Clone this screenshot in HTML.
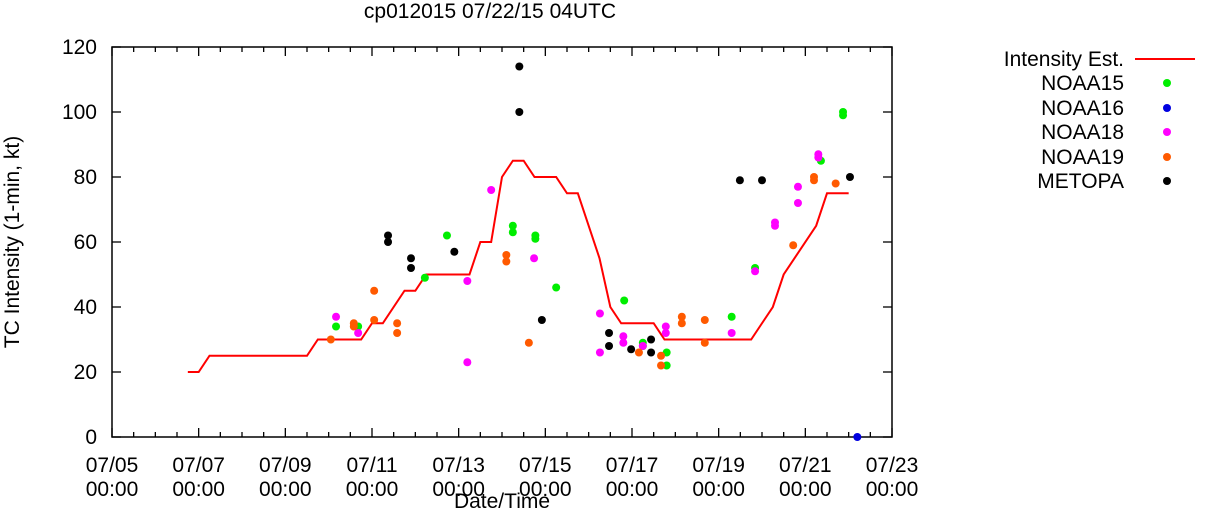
<!DOCTYPE html>
<html><head><meta charset="utf-8"><style>
body{margin:0;background:#fff}
svg{font-family:"Liberation Sans",sans-serif;display:block}
</style></head><body>
<svg id="chart" width="1211" height="509" viewBox="0 0 1211 509">
<text x="490" y="18" font-size="21" text-anchor="middle">cp012015 07/22/15 04UTC</text>
<text transform="translate(19,242) rotate(-90)" font-size="21" text-anchor="middle">TC Intensity (1-min, kt)</text>
<text x="502" y="508" font-size="21" text-anchor="middle">Date/Time</text>
<g id="axes"></g><g id="marks"></g><g id="legend"></g>
</svg>
<script>
const xTickLabels=["07/05","07/07","07/09","07/11","07/13","07/15","07/17","07/19","07/21","07/23"];
const yTicks=[0,20,40,60,80,100,120];
const lineDays=[6.75,7.0,7.25,9.5,9.75,10.75,11.0,11.25,11.75,12.0,12.25,13.25,13.5,13.75,14.0,14.25,14.5,14.75,15.25,15.5,15.75,16.25,16.5,16.75,17.5,17.75,19.75,20.25,20.5,21.25,21.5,22.0];
const lineVals=[20,20,25,25,30,30,35,35,45,45,50,50,60,60,80,85,85,80,80,75,75,55,40,35,35,30,30,40,50,65,75,75];
const n15Days=[10.17,10.68,12.73,12.22,14.25,14.25,14.77,14.77,15.25,16.82,17.25,17.25,17.8,17.8,19.3,19.84,21.36,21.87,21.87];
const n15Vals=[34,34,62,49,65,63,62,61,46,42,29,28,26,22,37,52,85,100,99];
const n16Days=[22.2];
const n16Vals=[0];
const n18Days=[10.17,10.68,13.2,13.2,13.75,14.74,16.26,16.26,16.8,16.8,17.25,17.78,17.78,19.3,19.84,20.3,20.3,20.83,20.83,21.3,21.3];
const n18Vals=[37,32,48,23,76,55,38,26,31,29,28,34,32,32,51,66,65,77,72,87,86];
const n19Days=[10.05,10.58,10.58,11.05,11.05,11.58,11.58,14.1,14.1,14.62,17.16,17.67,17.67,18.15,18.15,18.68,18.68,20.72,21.2,21.2,21.7];
const n19Vals=[30,35,34,45,36,35,32,56,54,29,26,25,22,37,35,36,29,59,80,79,78];
const metDays=[11.37,11.37,11.9,11.9,12.9,14.4,14.4,14.92,16.47,16.47,16.98,17.44,17.44,19.49,20.0,22.03];
const metVals=[62,60,55,52,57,100,114,36,32,28,27,30,26,79,79,80];

const NS="http://www.w3.org/2000/svg";
const L=112,R=892,T=47,B=437;
const xs=d=>L+(d-5)*(R-L)/18;
const ys=v=>B-v*(B-T)/120;
function mk(tag,attrs,parent,text){const e=document.createElementNS(NS,tag);for(const k in attrs)e.setAttribute(k,attrs[k]);if(text!==undefined)e.textContent=text;parent.appendChild(e);return e;}
const axes=document.getElementById('axes'),marks=document.getElementById('marks'),leg=document.getElementById('legend');
const frame=mk('rect',{x:L,y:T,width:R-L,height:B-T,fill:'none',stroke:'#000','stroke-width':1.5},axes);


for(let i=0;i<=36;i++){const x=xs(5+i*0.5);const len=(i%4==0)?9:5;
 mk('line',{x1:x,y1:B,x2:x,y2:B-len,stroke:'#000','stroke-width':1.3},axes);
 mk('line',{x1:x,y1:T,x2:x,y2:T+len,stroke:'#000','stroke-width':1.3},axes);}
xTickLabels.forEach((lab,i)=>{const x=xs(5+2*i);
 const t=mk('text',{x:x,y:472,'font-size':21,'text-anchor':'middle'},axes,lab);
 
 
 const t2=mk('text',{x:x,y:496,'font-size':21,'text-anchor':'middle'},axes,'00:00');
 
 });
yTicks.forEach(v=>{const y=ys(v);
 mk('line',{x1:L,y1:y,x2:L+9,y2:y,stroke:'#000','stroke-width':1.3},axes);
 mk('line',{x1:R,y1:y,x2:R-9,y2:y,stroke:'#000','stroke-width':1.3},axes);
 const t=mk('text',{x:97,y:y+7,'font-size':21,'text-anchor':'end'},axes,String(v));
 
 });
const pl=mk('polyline',{points:lineDays.map((d,i)=>xs(d)+','+ys(lineVals[i])).join(' '),fill:'none',stroke:'#f00','stroke-width':2},marks);


const series=[["NOAA15","#00ee00",n15Days,n15Vals],["NOAA16","#0000e0",n16Days,n16Vals],["NOAA18","#ff00ff",n18Days,n18Vals],["NOAA19","#ff5a00",n19Days,n19Vals],["METOPA","#000",metDays,metVals]];
series.forEach(s=>{s[2].forEach((d,i)=>{const c=mk('circle',{cx:xs(d),cy:ys(s[3][i]),r:4,fill:s[1]},marks);
 
 });});
const ly=[59,83,108,132,157,181];
const lt=mk('text',{x:1124,y:ly[0]+7,'font-size':21,'text-anchor':'end'},leg,'Intensity Est.');


const ll=mk('line',{x1:1135,y1:ly[0],x2:1195,y2:ly[0],stroke:'#f00','stroke-width':2},leg);


series.forEach((s,i)=>{const y=ly[i+1];
 const t=mk('text',{x:1124,y:y+7,'font-size':21,'text-anchor':'end'},leg,s[0]);
 
 
 const c=mk('circle',{cx:1167,cy:y,r:4,fill:s[1]},leg);
 
 });
</script>
</body></html>
